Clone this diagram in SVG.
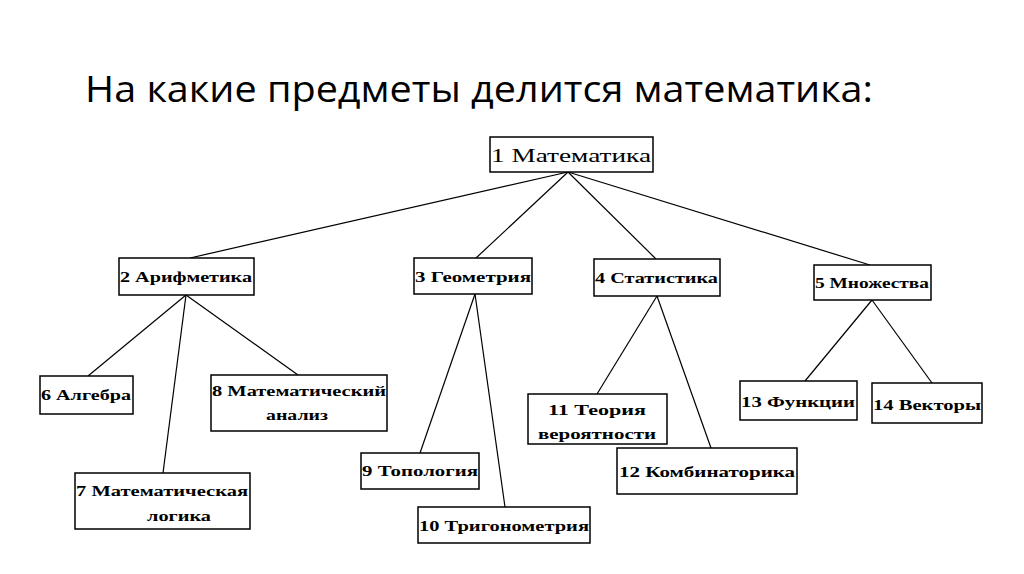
<svg xmlns="http://www.w3.org/2000/svg" width="1024" height="574" viewBox="0 0 1024 574">
<style>
rect{fill:#fff;stroke:#000;stroke-width:1.5}
text{font-family:"Liberation Serif",serif;font-size:15px;font-weight:bold;fill:#000}
.t{font-family:"Open Sans","Liberation Sans",sans-serif;font-size:37px;font-weight:normal}
.r{font-weight:normal;font-size:19px}
#c line{stroke:#000;stroke-width:1.2}
</style>
<rect x="0" y="0" width="1024" height="574" style="fill:#fff;stroke:none"/>
<text class="t" x="85" y="102" textLength="788" lengthAdjust="spacingAndGlyphs">На какие предметы делится математика:</text>
<g id="c">
<line x1="568" y1="172" x2="190" y2="258"/>
<line x1="568" y1="172" x2="476" y2="258"/>
<line x1="568" y1="172" x2="656" y2="259"/>
<line x1="568" y1="172" x2="870" y2="265"/>
<line x1="186" y1="295" x2="88" y2="376"/>
<line x1="186" y1="295" x2="163" y2="473"/>
<line x1="186" y1="295" x2="298" y2="375"/>
<line x1="475" y1="294" x2="420" y2="453"/>
<line x1="475" y1="294" x2="505" y2="507"/>
<line x1="657" y1="296" x2="597" y2="394"/>
<line x1="657" y1="296" x2="711" y2="448"/>
<line x1="872" y1="300" x2="805" y2="381"/>
<line x1="872" y1="300" x2="932" y2="383"/>
</g>
<g id="n1"><rect x="490" y="137" width="163" height="35"/><text class="r" x="491" y="162" textLength="160" lengthAdjust="spacingAndGlyphs">1 Математика</text></g>
<g id="n2"><rect x="119" y="258" width="135" height="37"/><text x="120" y="282" textLength="132" lengthAdjust="spacingAndGlyphs">2 Арифметика</text></g>
<g id="n3"><rect x="414" y="258" width="118" height="36"/><text x="415" y="282" textLength="116" lengthAdjust="spacingAndGlyphs">3 Геометрия</text></g>
<g id="n4"><rect x="594" y="259" width="126" height="37"/><text x="595" y="283" textLength="123" lengthAdjust="spacingAndGlyphs">4 Статистика</text></g>
<g id="n5"><rect x="814" y="265" width="117" height="35"/><text x="815" y="288" textLength="114" lengthAdjust="spacingAndGlyphs">5 Множества</text></g>
<g id="n6"><rect x="40" y="376" width="93" height="38"/><text x="41" y="400" textLength="90" lengthAdjust="spacingAndGlyphs">6 Алгебра</text></g>
<g id="n7"><rect x="75" y="473" width="175" height="56"/><text x="76" y="496" textLength="172" lengthAdjust="spacingAndGlyphs">7 Математическая</text><text x="147" y="521" textLength="64" lengthAdjust="spacingAndGlyphs">логика</text></g>
<g id="n8"><rect x="211" y="375" width="176" height="56"/><text x="212" y="396" textLength="174" lengthAdjust="spacingAndGlyphs">8 Математический</text><text x="266" y="420" textLength="62" lengthAdjust="spacingAndGlyphs">анализ</text></g>
<g id="n9"><rect x="361" y="453" width="118" height="36"/><text x="362" y="476" textLength="116" lengthAdjust="spacingAndGlyphs">9 Топология</text></g>
<g id="n10"><rect x="418" y="507" width="172" height="36"/><text x="419" y="531" textLength="170" lengthAdjust="spacingAndGlyphs">10 Тригонометрия</text></g>
<g id="n11"><rect x="528" y="394" width="139" height="50"/><text x="548" y="415" textLength="98" lengthAdjust="spacingAndGlyphs">11  Теория</text><text x="538" y="439" textLength="118" lengthAdjust="spacingAndGlyphs">вероятности</text></g>
<g id="n12"><rect x="617" y="448" width="180" height="46"/><text x="619" y="477" textLength="176" lengthAdjust="spacingAndGlyphs">12 Комбинаторика</text></g>
<g id="n13"><rect x="740" y="381" width="117" height="39"/><text x="741" y="407" textLength="114" lengthAdjust="spacingAndGlyphs">13 Функции</text></g>
<g id="n14"><rect x="872" y="383" width="110" height="40"/><text x="873" y="410" textLength="108" lengthAdjust="spacingAndGlyphs">14 Векторы</text></g>
</svg>
